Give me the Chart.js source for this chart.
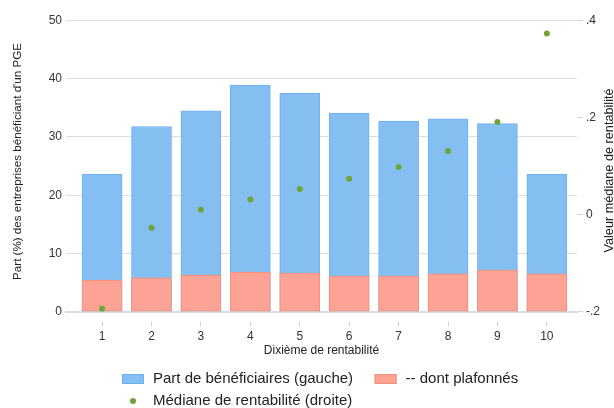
<!DOCTYPE html>
<html><head><meta charset="utf-8">
<script src="https://cdn.jsdelivr.net/npm/chart.js@4/dist/chart.umd.min.js"></script>
<style>html,body{margin:0;padding:0;background:#fff}#wrap{width:614px;height:408px}</style>
</head><body><div id="wrap"><canvas id="c" width="614" height="408"></canvas></div>
<script>
const deciles = [1,2,3,4,5,6,7,8,9,10];
const partBeneficiaires = [23.6,31.8,34.5,38.9,37.5,34.1,32.7,33.1,32.3,23.6];
const partPlafonnes = [5.45,5.8,6.25,6.8,6.65,6.1,6.1,6.5,7.15,6.5];
const medianeRentabilite = [-0.194,-0.027,0.010,0.031,0.053,0.074,0.098,0.131,0.191,0.373];
const leftTicks = [0,10,20,30,40,50];
const rightTicks = [-0.2,0,0.2,0.4];
const rightTickLabels = ['-.2','0','.2','.4'];
const seriesLabels = ['Part de bénéficiaires (gauche)','-- dont plafonnés','Médiane de rentabilité (droite)'];
const xTitle = 'Dixième de rentabilité';
const leftTitle = "Part (%) des entreprises bénéficiant d'un PGE";
const rightTitle = 'Valeur médiane de rentabilité';

const FONT = "'Liberation Sans', Arial, sans-serif";
const BLUE = '#85bff2', BLUE_B = '#6cb2ee';
const RED = '#fca395', RED_B = '#f88d7a';
const GREEN = '#6ea53b';

const customDecor = {
  id: 'customDecor',
  afterDraw(chart) {
    const ctx = chart.ctx;
    ctx.save();
    // axis titles (both read bottom-to-top)
    ctx.fillStyle = '#222';
    ctx.textAlign = 'center';
    ctx.textBaseline = 'middle';
    ctx.font = '11.6px ' + FONT;
    ctx.save(); ctx.translate(17.5, 161.5); ctx.rotate(-Math.PI/2); ctx.fillText(leftTitle, 0, 0); ctx.restore();
    ctx.font = '12.7px ' + FONT;
    ctx.save(); ctx.translate(609.5, 170.5); ctx.rotate(-Math.PI/2); ctx.fillText(rightTitle, 0, 0); ctx.restore();
    // legend
    const ds = chart.data.datasets;
    ctx.font = '15px ' + FONT;
    ctx.textAlign = 'left';
    const x0 = 122, boxW = 22, boxH = 10, textGap = 9, itemGap = 21.5;
    const row1 = 379, row2 = 401;
    ctx.fillStyle = ds[0].backgroundColor; ctx.fillRect(x0, row1 - boxH/2, boxW, boxH);
    ctx.strokeStyle = ds[0].borderColor; ctx.lineWidth = 1; ctx.strokeRect(x0 + 0.5, row1 - boxH/2 + 0.5, boxW - 1, boxH - 1);
    ctx.fillStyle = '#222'; ctx.fillText(ds[0].label, x0 + boxW + textGap, row1);
    const x1 = x0 + boxW + textGap + ctx.measureText(ds[0].label).width + itemGap;
    ctx.fillStyle = ds[1].backgroundColor; ctx.fillRect(x1, row1 - boxH/2, boxW, boxH);
    ctx.strokeStyle = ds[1].borderColor; ctx.strokeRect(x1 + 0.5, row1 - boxH/2 + 0.5, boxW - 1, boxH - 1);
    ctx.fillStyle = '#222'; ctx.fillText(ds[1].label, x1 + boxW + textGap, row1);
    ctx.fillStyle = ds[2].backgroundColor;
    ctx.beginPath(); ctx.arc(x0 + boxW/2, row2, 3, 0, Math.PI*2); ctx.fill();
    ctx.fillStyle = '#222'; ctx.fillText(ds[2].label, x0 + boxW + textGap, row2);
    ctx.restore();
  }
};

new Chart(document.getElementById('c'), {
  type: 'bar',
  data: {
    datasets: [
      { label: seriesLabels[0], data: deciles.map((d,i)=>({x:d, y:partBeneficiaires[i]})),
        backgroundColor: BLUE, borderColor: BLUE_B, borderWidth: 1, borderSkipped: false,
        barThickness: 40, grouped: false, order: 2, xAxisID: 'x', yAxisID: 'y' },
      { label: seriesLabels[1], data: deciles.map((d,i)=>({x:d, y:partPlafonnes[i]})),
        backgroundColor: RED, borderColor: RED_B, borderWidth: 1, borderSkipped: false,
        barThickness: 40, grouped: false, order: 1, xAxisID: 'x', yAxisID: 'y' },
      { type: 'scatter', label: seriesLabels[2], data: deciles.map((d,i)=>({x:d, y:medianeRentabilite[i]})),
        backgroundColor: GREEN, borderColor: GREEN, borderWidth: 0, pointRadius: 3, order: 0,
        xAxisID: 'x', yAxisID: 'y2' }
    ]
  },
  options: {
    responsive: false,
    animation: false,
    devicePixelRatio: 1,
    layout: { padding: { top: 20.5, bottom: 46.3, left: 0, right: 0 } },
    plugins: { legend: { display: false }, tooltip: { enabled: false } },
    scales: {
      x: {
        type: 'linear', position: 'bottom', min: 0.27, max: 10.61, offset: false,
        afterBuildTicks: s => { s.ticks = deciles.map(v => ({ value: v })); },
        afterFit: s => { s.height = 50; },
        ticks: { font: { family: FONT, size: 12 }, color: '#333', padding: 3, autoSkip: false, maxRotation: 0 },
        grid: { offset: false, drawOnChartArea: false, drawTicks: true, tickLength: 15, tickColor: '#cfcfcf',
                tickBorderDash: [5, 9], tickBorderDashOffset: 5 },
        border: { display: true, color: '#dcdcdc', width: 2 },
        title: { display: true, text: xTitle, font: { family: FONT, size: 12 }, color: '#222', padding: { top: 0, bottom: 3.5 } }
      },
      y: {
        type: 'linear', position: 'left', min: 0, max: 50,
        afterBuildTicks: s => { s.ticks = leftTicks.map(v => ({ value: v })); },
        afterFit: s => { s.width = 66; },
        ticks: { font: { family: FONT, size: 12 }, color: '#333', padding: 4 },
        grid: { color: '#dcdcdc', drawTicks: false },
        border: { display: false }
      },
      y2: {
        type: 'linear', position: 'right', min: -0.2, max: 0.4,
        afterBuildTicks: s => { s.ticks = rightTicks.map(v => ({ value: v })); },
        afterFit: s => { s.width = 37; },
        ticks: { font: { family: FONT, size: 12 }, color: '#333', padding: 3,
                 callback: v => rightTickLabels[rightTicks.indexOf(v)] },
        grid: { drawOnChartArea: false, drawTicks: true, tickLength: 6, tickColor: '#d4d4d4' },
        border: { display: false }
      }
    }
  },
  plugins: [customDecor]
});
</script>
</body></html>
